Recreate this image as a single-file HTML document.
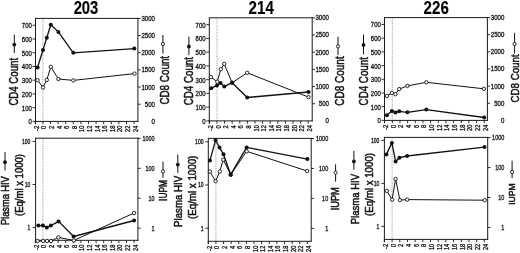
<!DOCTYPE html>
<html><head><meta charset="utf-8"><style>
html,body{margin:0;padding:0;background:#fff;}
body{width:520px;height:253px;overflow:hidden;}
svg{display:block;font-family:"Liberation Sans", sans-serif;filter:grayscale(1) blur(0.3px);}
</style></head><body>
<svg width="520" height="253" viewBox="0 0 520 253">
<rect width="520" height="253" fill="#fff"/>
<text x="86.00" y="13.90" font-size="18.40" text-anchor="middle" font-weight="bold" fill="#000" stroke="#000" stroke-width="0.15" textLength="24.75" lengthAdjust="spacingAndGlyphs">203</text>
<line x1="42.90" y1="19.40" x2="42.90" y2="121.40" stroke="#9a9a9a" stroke-width="1.0" stroke-dasharray="1.1,1.1"/>
<line x1="35.50" y1="18.40" x2="138.40" y2="18.40" stroke="#1a1a1a" stroke-width="1" />
<line x1="35.50" y1="17.90" x2="35.50" y2="124.20" stroke="#1a1a1a" stroke-width="1" />
<line x1="137.90" y1="17.90" x2="137.90" y2="121.90" stroke="#1a1a1a" stroke-width="1" />
<line x1="35.00" y1="121.40" x2="138.40" y2="121.40" stroke="#1a1a1a" stroke-width="1" />
<line x1="35.30" y1="121.40" x2="35.30" y2="124.20" stroke="#1a1a1a" stroke-width="0.9" />
<text transform="translate(38.80,125.70) rotate(-90)" font-size="6.50" text-anchor="end" fill="#111" stroke="#111" stroke-width="0.3" textLength="5.30" lengthAdjust="spacingAndGlyphs">-2</text>
<line x1="42.90" y1="121.40" x2="42.90" y2="124.20" stroke="#1a1a1a" stroke-width="0.9" />
<text transform="translate(46.40,125.70) rotate(-90)" font-size="6.50" text-anchor="end" fill="#111" stroke="#111" stroke-width="0.3" textLength="3.20" lengthAdjust="spacingAndGlyphs">0</text>
<line x1="50.50" y1="121.40" x2="50.50" y2="124.20" stroke="#1a1a1a" stroke-width="0.9" />
<text transform="translate(54.00,125.70) rotate(-90)" font-size="6.50" text-anchor="end" fill="#111" stroke="#111" stroke-width="0.3" textLength="3.20" lengthAdjust="spacingAndGlyphs">2</text>
<line x1="58.10" y1="121.40" x2="58.10" y2="124.20" stroke="#1a1a1a" stroke-width="0.9" />
<text transform="translate(61.60,125.70) rotate(-90)" font-size="6.50" text-anchor="end" fill="#111" stroke="#111" stroke-width="0.3" textLength="3.20" lengthAdjust="spacingAndGlyphs">4</text>
<line x1="65.70" y1="121.40" x2="65.70" y2="124.20" stroke="#1a1a1a" stroke-width="0.9" />
<text transform="translate(69.20,125.70) rotate(-90)" font-size="6.50" text-anchor="end" fill="#111" stroke="#111" stroke-width="0.3" textLength="3.20" lengthAdjust="spacingAndGlyphs">6</text>
<line x1="73.30" y1="121.40" x2="73.30" y2="124.20" stroke="#1a1a1a" stroke-width="0.9" />
<text transform="translate(76.80,125.70) rotate(-90)" font-size="6.50" text-anchor="end" fill="#111" stroke="#111" stroke-width="0.3" textLength="3.20" lengthAdjust="spacingAndGlyphs">8</text>
<line x1="80.90" y1="121.40" x2="80.90" y2="124.20" stroke="#1a1a1a" stroke-width="0.9" />
<text transform="translate(84.40,125.70) rotate(-90)" font-size="6.50" text-anchor="end" fill="#111" stroke="#111" stroke-width="0.3" textLength="6.30" lengthAdjust="spacingAndGlyphs">10</text>
<line x1="88.50" y1="121.40" x2="88.50" y2="124.20" stroke="#1a1a1a" stroke-width="0.9" />
<text transform="translate(92.00,125.70) rotate(-90)" font-size="6.50" text-anchor="end" fill="#111" stroke="#111" stroke-width="0.3" textLength="6.30" lengthAdjust="spacingAndGlyphs">12</text>
<line x1="96.10" y1="121.40" x2="96.10" y2="124.20" stroke="#1a1a1a" stroke-width="0.9" />
<text transform="translate(99.60,125.70) rotate(-90)" font-size="6.50" text-anchor="end" fill="#111" stroke="#111" stroke-width="0.3" textLength="6.30" lengthAdjust="spacingAndGlyphs">14</text>
<line x1="103.70" y1="121.40" x2="103.70" y2="124.20" stroke="#1a1a1a" stroke-width="0.9" />
<text transform="translate(107.20,125.70) rotate(-90)" font-size="6.50" text-anchor="end" fill="#111" stroke="#111" stroke-width="0.3" textLength="6.30" lengthAdjust="spacingAndGlyphs">16</text>
<line x1="111.30" y1="121.40" x2="111.30" y2="124.20" stroke="#1a1a1a" stroke-width="0.9" />
<text transform="translate(114.80,125.70) rotate(-90)" font-size="6.50" text-anchor="end" fill="#111" stroke="#111" stroke-width="0.3" textLength="6.30" lengthAdjust="spacingAndGlyphs">18</text>
<line x1="118.90" y1="121.40" x2="118.90" y2="124.20" stroke="#1a1a1a" stroke-width="0.9" />
<text transform="translate(122.40,125.70) rotate(-90)" font-size="6.50" text-anchor="end" fill="#111" stroke="#111" stroke-width="0.3" textLength="6.30" lengthAdjust="spacingAndGlyphs">20</text>
<line x1="126.50" y1="121.40" x2="126.50" y2="124.20" stroke="#1a1a1a" stroke-width="0.9" />
<text transform="translate(130.00,125.70) rotate(-90)" font-size="6.50" text-anchor="end" fill="#111" stroke="#111" stroke-width="0.3" textLength="6.30" lengthAdjust="spacingAndGlyphs">22</text>
<line x1="134.10" y1="121.40" x2="134.10" y2="124.20" stroke="#1a1a1a" stroke-width="0.9" />
<text transform="translate(137.60,125.70) rotate(-90)" font-size="6.50" text-anchor="end" fill="#111" stroke="#111" stroke-width="0.3" textLength="6.30" lengthAdjust="spacingAndGlyphs">24</text>
<line x1="32.50" y1="121.40" x2="35.50" y2="121.40" stroke="#1a1a1a" stroke-width="0.9" />
<text x="31.80" y="124.40" font-size="7.00" text-anchor="end" fill="#111" stroke="#111" stroke-width="0.3" textLength="3.33" lengthAdjust="spacingAndGlyphs">0</text>
<line x1="32.50" y1="107.67" x2="35.50" y2="107.67" stroke="#1a1a1a" stroke-width="0.9" />
<text x="31.80" y="110.67" font-size="7.00" text-anchor="end" fill="#111" stroke="#111" stroke-width="0.3" textLength="9.99" lengthAdjust="spacingAndGlyphs">100</text>
<line x1="32.50" y1="93.93" x2="35.50" y2="93.93" stroke="#1a1a1a" stroke-width="0.9" />
<text x="31.80" y="96.93" font-size="7.00" text-anchor="end" fill="#111" stroke="#111" stroke-width="0.3" textLength="9.99" lengthAdjust="spacingAndGlyphs">200</text>
<line x1="32.50" y1="80.20" x2="35.50" y2="80.20" stroke="#1a1a1a" stroke-width="0.9" />
<text x="31.80" y="83.20" font-size="7.00" text-anchor="end" fill="#111" stroke="#111" stroke-width="0.3" textLength="9.99" lengthAdjust="spacingAndGlyphs">300</text>
<line x1="32.50" y1="66.47" x2="35.50" y2="66.47" stroke="#1a1a1a" stroke-width="0.9" />
<text x="31.80" y="69.47" font-size="7.00" text-anchor="end" fill="#111" stroke="#111" stroke-width="0.3" textLength="9.99" lengthAdjust="spacingAndGlyphs">400</text>
<line x1="32.50" y1="52.73" x2="35.50" y2="52.73" stroke="#1a1a1a" stroke-width="0.9" />
<text x="31.80" y="55.73" font-size="7.00" text-anchor="end" fill="#111" stroke="#111" stroke-width="0.3" textLength="9.99" lengthAdjust="spacingAndGlyphs">500</text>
<line x1="32.50" y1="39.00" x2="35.50" y2="39.00" stroke="#1a1a1a" stroke-width="0.9" />
<text x="31.80" y="42.00" font-size="7.00" text-anchor="end" fill="#111" stroke="#111" stroke-width="0.3" textLength="9.99" lengthAdjust="spacingAndGlyphs">600</text>
<line x1="32.50" y1="25.27" x2="35.50" y2="25.27" stroke="#1a1a1a" stroke-width="0.9" />
<text x="31.80" y="28.27" font-size="7.00" text-anchor="end" fill="#111" stroke="#111" stroke-width="0.3" textLength="9.99" lengthAdjust="spacingAndGlyphs">700</text>
<text x="155.00" y="123.85" font-size="7.00" text-anchor="end" fill="#111" stroke="#111" stroke-width="0.3" textLength="3.38" lengthAdjust="spacingAndGlyphs">0</text>
<line x1="137.90" y1="104.23" x2="140.70" y2="104.23" stroke="#1a1a1a" stroke-width="0.9" />
<text x="155.00" y="106.68" font-size="7.00" text-anchor="end" fill="#111" stroke="#111" stroke-width="0.3" textLength="10.14" lengthAdjust="spacingAndGlyphs">500</text>
<line x1="137.90" y1="87.07" x2="140.70" y2="87.07" stroke="#1a1a1a" stroke-width="0.9" />
<text x="155.00" y="89.52" font-size="7.00" text-anchor="end" fill="#111" stroke="#111" stroke-width="0.3" textLength="13.52" lengthAdjust="spacingAndGlyphs">1000</text>
<line x1="137.90" y1="69.90" x2="140.70" y2="69.90" stroke="#1a1a1a" stroke-width="0.9" />
<text x="155.00" y="72.35" font-size="7.00" text-anchor="end" fill="#111" stroke="#111" stroke-width="0.3" textLength="13.52" lengthAdjust="spacingAndGlyphs">1500</text>
<line x1="137.90" y1="52.73" x2="140.70" y2="52.73" stroke="#1a1a1a" stroke-width="0.9" />
<text x="155.00" y="55.18" font-size="7.00" text-anchor="end" fill="#111" stroke="#111" stroke-width="0.3" textLength="13.52" lengthAdjust="spacingAndGlyphs">2000</text>
<line x1="137.90" y1="35.57" x2="140.70" y2="35.57" stroke="#1a1a1a" stroke-width="0.9" />
<text x="155.00" y="38.02" font-size="7.00" text-anchor="end" fill="#111" stroke="#111" stroke-width="0.3" textLength="13.52" lengthAdjust="spacingAndGlyphs">2500</text>
<line x1="137.90" y1="18.40" x2="140.70" y2="18.40" stroke="#1a1a1a" stroke-width="0.9" />
<text x="155.00" y="20.85" font-size="7.00" text-anchor="end" fill="#111" stroke="#111" stroke-width="0.3" textLength="13.52" lengthAdjust="spacingAndGlyphs">3000</text>
<text transform="translate(17.70,105.60) rotate(-90)" font-size="12.05" fill="#111" stroke="#111" stroke-width="0.5" textLength="47.70" lengthAdjust="spacingAndGlyphs">CD4 Count</text>
<text transform="translate(169.40,104.60) rotate(-90)" font-size="12.63" fill="#111" stroke="#111" stroke-width="0.5" textLength="48.70" lengthAdjust="spacingAndGlyphs">CD8 Count</text>
<line x1="14.30" y1="34.50" x2="14.30" y2="53.10" stroke="#111" stroke-width="1.0" />
<circle cx="14.30" cy="44.60" r="1.9" fill="#111"/>
<line x1="162.90" y1="35.00" x2="162.90" y2="53.60" stroke="#111" stroke-width="1.0" />
<circle cx="162.90" cy="44.00" r="1.6" fill="#fff" stroke="#111" stroke-width="0.9"/>
<polyline points="37.60,80.20 43.00,87.50 46.80,79.90 50.80,66.90 58.40,79.00 73.30,80.40 134.50,73.60" fill="none" stroke="#111" stroke-width="1.0" stroke-linejoin="round"/>
<polyline points="37.60,67.40 43.00,50.00 46.80,37.70 50.80,24.80 58.40,31.90 73.30,52.80 134.30,48.60" fill="none" stroke="#111" stroke-width="1.3" stroke-linejoin="round"/>
<circle cx="37.60" cy="80.20" r="1.7" fill="#fff" stroke="#111" stroke-width="0.9"/>
<circle cx="43.00" cy="87.50" r="1.7" fill="#fff" stroke="#111" stroke-width="0.9"/>
<circle cx="46.80" cy="79.90" r="1.7" fill="#fff" stroke="#111" stroke-width="0.9"/>
<circle cx="50.80" cy="66.90" r="1.7" fill="#fff" stroke="#111" stroke-width="0.9"/>
<circle cx="58.40" cy="79.00" r="1.7" fill="#fff" stroke="#111" stroke-width="0.9"/>
<circle cx="73.30" cy="80.40" r="1.7" fill="#fff" stroke="#111" stroke-width="0.9"/>
<circle cx="134.50" cy="73.60" r="1.7" fill="#fff" stroke="#111" stroke-width="0.9"/>
<circle cx="37.60" cy="67.40" r="2.0" fill="#111"/>
<circle cx="43.00" cy="50.00" r="2.0" fill="#111"/>
<circle cx="46.80" cy="37.70" r="2.0" fill="#111"/>
<circle cx="50.80" cy="24.80" r="2.0" fill="#111"/>
<circle cx="58.40" cy="31.90" r="2.0" fill="#111"/>
<circle cx="73.30" cy="52.80" r="2.0" fill="#111"/>
<circle cx="134.30" cy="48.60" r="2.0" fill="#111"/>
<line x1="42.90" y1="139.20" x2="42.90" y2="240.30" stroke="#9a9a9a" stroke-width="1.0" stroke-dasharray="1.1,1.1"/>
<line x1="35.60" y1="138.20" x2="138.40" y2="138.20" stroke="#1a1a1a" stroke-width="1" />
<line x1="35.60" y1="137.70" x2="35.60" y2="243.10" stroke="#1a1a1a" stroke-width="1" />
<line x1="137.90" y1="137.70" x2="137.90" y2="240.80" stroke="#1a1a1a" stroke-width="1" />
<line x1="35.10" y1="240.30" x2="138.40" y2="240.30" stroke="#1a1a1a" stroke-width="1" />
<line x1="35.30" y1="240.30" x2="35.30" y2="243.10" stroke="#1a1a1a" stroke-width="0.9" />
<text transform="translate(38.80,244.70) rotate(-90)" font-size="6.50" text-anchor="end" fill="#111" stroke="#111" stroke-width="0.3" textLength="5.30" lengthAdjust="spacingAndGlyphs">-2</text>
<line x1="42.90" y1="240.30" x2="42.90" y2="243.10" stroke="#1a1a1a" stroke-width="0.9" />
<text transform="translate(46.40,244.70) rotate(-90)" font-size="6.50" text-anchor="end" fill="#111" stroke="#111" stroke-width="0.3" textLength="3.20" lengthAdjust="spacingAndGlyphs">0</text>
<line x1="50.50" y1="240.30" x2="50.50" y2="243.10" stroke="#1a1a1a" stroke-width="0.9" />
<text transform="translate(54.00,244.70) rotate(-90)" font-size="6.50" text-anchor="end" fill="#111" stroke="#111" stroke-width="0.3" textLength="3.20" lengthAdjust="spacingAndGlyphs">2</text>
<line x1="58.10" y1="240.30" x2="58.10" y2="243.10" stroke="#1a1a1a" stroke-width="0.9" />
<text transform="translate(61.60,244.70) rotate(-90)" font-size="6.50" text-anchor="end" fill="#111" stroke="#111" stroke-width="0.3" textLength="3.20" lengthAdjust="spacingAndGlyphs">4</text>
<line x1="65.70" y1="240.30" x2="65.70" y2="243.10" stroke="#1a1a1a" stroke-width="0.9" />
<text transform="translate(69.20,244.70) rotate(-90)" font-size="6.50" text-anchor="end" fill="#111" stroke="#111" stroke-width="0.3" textLength="3.20" lengthAdjust="spacingAndGlyphs">6</text>
<line x1="73.30" y1="240.30" x2="73.30" y2="243.10" stroke="#1a1a1a" stroke-width="0.9" />
<text transform="translate(76.80,244.70) rotate(-90)" font-size="6.50" text-anchor="end" fill="#111" stroke="#111" stroke-width="0.3" textLength="3.20" lengthAdjust="spacingAndGlyphs">8</text>
<line x1="80.90" y1="240.30" x2="80.90" y2="243.10" stroke="#1a1a1a" stroke-width="0.9" />
<text transform="translate(84.40,244.70) rotate(-90)" font-size="6.50" text-anchor="end" fill="#111" stroke="#111" stroke-width="0.3" textLength="6.30" lengthAdjust="spacingAndGlyphs">10</text>
<line x1="88.50" y1="240.30" x2="88.50" y2="243.10" stroke="#1a1a1a" stroke-width="0.9" />
<text transform="translate(92.00,244.70) rotate(-90)" font-size="6.50" text-anchor="end" fill="#111" stroke="#111" stroke-width="0.3" textLength="6.30" lengthAdjust="spacingAndGlyphs">12</text>
<line x1="96.10" y1="240.30" x2="96.10" y2="243.10" stroke="#1a1a1a" stroke-width="0.9" />
<text transform="translate(99.60,244.70) rotate(-90)" font-size="6.50" text-anchor="end" fill="#111" stroke="#111" stroke-width="0.3" textLength="6.30" lengthAdjust="spacingAndGlyphs">14</text>
<line x1="103.70" y1="240.30" x2="103.70" y2="243.10" stroke="#1a1a1a" stroke-width="0.9" />
<text transform="translate(107.20,244.70) rotate(-90)" font-size="6.50" text-anchor="end" fill="#111" stroke="#111" stroke-width="0.3" textLength="6.30" lengthAdjust="spacingAndGlyphs">16</text>
<line x1="111.30" y1="240.30" x2="111.30" y2="243.10" stroke="#1a1a1a" stroke-width="0.9" />
<text transform="translate(114.80,244.70) rotate(-90)" font-size="6.50" text-anchor="end" fill="#111" stroke="#111" stroke-width="0.3" textLength="6.30" lengthAdjust="spacingAndGlyphs">18</text>
<line x1="118.90" y1="240.30" x2="118.90" y2="243.10" stroke="#1a1a1a" stroke-width="0.9" />
<text transform="translate(122.40,244.70) rotate(-90)" font-size="6.50" text-anchor="end" fill="#111" stroke="#111" stroke-width="0.3" textLength="6.30" lengthAdjust="spacingAndGlyphs">20</text>
<line x1="126.50" y1="240.30" x2="126.50" y2="243.10" stroke="#1a1a1a" stroke-width="0.9" />
<text transform="translate(130.00,244.70) rotate(-90)" font-size="6.50" text-anchor="end" fill="#111" stroke="#111" stroke-width="0.3" textLength="6.30" lengthAdjust="spacingAndGlyphs">22</text>
<line x1="134.10" y1="240.30" x2="134.10" y2="243.10" stroke="#1a1a1a" stroke-width="0.9" />
<text transform="translate(137.60,244.70) rotate(-90)" font-size="6.50" text-anchor="end" fill="#111" stroke="#111" stroke-width="0.3" textLength="6.30" lengthAdjust="spacingAndGlyphs">24</text>
<line x1="32.60" y1="141.50" x2="35.60" y2="141.50" stroke="#1a1a1a" stroke-width="0.9" />
<text x="30.30" y="143.85" font-size="6.70" text-anchor="end" fill="#111" stroke="#111" stroke-width="0.3" textLength="8.40" lengthAdjust="spacingAndGlyphs">100</text>
<line x1="32.60" y1="184.50" x2="35.60" y2="184.50" stroke="#1a1a1a" stroke-width="0.9" />
<text x="30.30" y="186.85" font-size="6.70" text-anchor="end" fill="#111" stroke="#111" stroke-width="0.3" textLength="5.60" lengthAdjust="spacingAndGlyphs">10</text>
<line x1="32.60" y1="227.50" x2="35.60" y2="227.50" stroke="#1a1a1a" stroke-width="0.9" />
<text x="30.30" y="229.85" font-size="6.70" text-anchor="end" fill="#111" stroke="#111" stroke-width="0.3" textLength="2.80" lengthAdjust="spacingAndGlyphs">1</text>
<line x1="137.90" y1="138.40" x2="140.70" y2="138.40" stroke="#1a1a1a" stroke-width="0.9" />
<text x="154.60" y="140.90" font-size="7.20" text-anchor="end" fill="#111" stroke="#111" stroke-width="0.3" textLength="12.20" lengthAdjust="spacingAndGlyphs">1000</text>
<line x1="137.90" y1="168.33" x2="140.70" y2="168.33" stroke="#1a1a1a" stroke-width="0.9" />
<text x="154.60" y="170.83" font-size="7.20" text-anchor="end" fill="#111" stroke="#111" stroke-width="0.3" textLength="9.15" lengthAdjust="spacingAndGlyphs">100</text>
<line x1="137.90" y1="198.26" x2="140.70" y2="198.26" stroke="#1a1a1a" stroke-width="0.9" />
<text x="154.60" y="200.76" font-size="7.20" text-anchor="end" fill="#111" stroke="#111" stroke-width="0.3" textLength="6.10" lengthAdjust="spacingAndGlyphs">10</text>
<line x1="137.90" y1="228.19" x2="140.70" y2="228.19" stroke="#1a1a1a" stroke-width="0.9" />
<text x="154.60" y="230.69" font-size="7.20" text-anchor="end" fill="#111" stroke="#111" stroke-width="0.3" textLength="3.05" lengthAdjust="spacingAndGlyphs">1</text>
<text transform="translate(9.30,225.10) rotate(-90)" font-size="11.62" fill="#111" stroke="#111" stroke-width="0.5" textLength="48.90" lengthAdjust="spacingAndGlyphs">Plasma HIV</text>
<text transform="translate(23.20,216.00) rotate(-90)" font-size="11.05" fill="#111" stroke="#111" stroke-width="0.5" textLength="62.00" lengthAdjust="spacingAndGlyphs">(Eq/ml x 1000)</text>
<text transform="translate(167.40,200.90) rotate(-90)" font-size="10.04" fill="#111" stroke="#111" stroke-width="0.5" textLength="20.90" lengthAdjust="spacingAndGlyphs">IUPM</text>
<line x1="5.00" y1="152.10" x2="5.00" y2="170.50" stroke="#111" stroke-width="1.0" />
<circle cx="5.00" cy="162.20" r="1.9" fill="#111"/>
<line x1="163.00" y1="161.50" x2="163.00" y2="177.80" stroke="#111" stroke-width="1.0" />
<circle cx="163.00" cy="171.40" r="1.6" fill="#fff" stroke="#111" stroke-width="0.9"/>
<polyline points="37.50,241.00 43.20,241.00 47.10,241.00 51.00,241.00 58.30,237.40 73.80,240.40 134.10,213.00" fill="none" stroke="#111" stroke-width="1.0" stroke-linejoin="round"/>
<polyline points="38.40,225.60 42.90,225.60 46.80,227.40 50.90,225.60 58.60,221.40 73.60,236.50 134.10,220.50" fill="none" stroke="#111" stroke-width="1.3" stroke-linejoin="round"/>
<circle cx="37.50" cy="241.00" r="1.7" fill="#fff" stroke="#111" stroke-width="0.9"/>
<circle cx="43.20" cy="241.00" r="1.7" fill="#fff" stroke="#111" stroke-width="0.9"/>
<circle cx="47.10" cy="241.00" r="1.7" fill="#fff" stroke="#111" stroke-width="0.9"/>
<circle cx="51.00" cy="241.00" r="1.7" fill="#fff" stroke="#111" stroke-width="0.9"/>
<circle cx="58.30" cy="237.40" r="1.7" fill="#fff" stroke="#111" stroke-width="0.9"/>
<circle cx="73.80" cy="240.40" r="1.7" fill="#fff" stroke="#111" stroke-width="0.9"/>
<circle cx="134.10" cy="213.00" r="1.7" fill="#fff" stroke="#111" stroke-width="0.9"/>
<circle cx="38.40" cy="225.60" r="2.0" fill="#111"/>
<circle cx="42.90" cy="225.60" r="2.0" fill="#111"/>
<circle cx="46.80" cy="227.40" r="2.0" fill="#111"/>
<circle cx="50.90" cy="225.60" r="2.0" fill="#111"/>
<circle cx="58.60" cy="221.40" r="2.0" fill="#111"/>
<circle cx="73.60" cy="236.50" r="2.0" fill="#111"/>
<circle cx="134.10" cy="220.50" r="2.0" fill="#111"/>
<text x="261.20" y="13.90" font-size="18.40" text-anchor="middle" font-weight="bold" fill="#000" stroke="#000" stroke-width="0.15" textLength="25.17" lengthAdjust="spacingAndGlyphs">214</text>
<line x1="217.00" y1="18.80" x2="217.00" y2="120.90" stroke="#9a9a9a" stroke-width="1.0" stroke-dasharray="1.1,1.1"/>
<line x1="209.30" y1="17.80" x2="312.70" y2="17.80" stroke="#1a1a1a" stroke-width="1" />
<line x1="209.30" y1="17.30" x2="209.30" y2="123.70" stroke="#1a1a1a" stroke-width="1" />
<line x1="312.20" y1="17.30" x2="312.20" y2="121.40" stroke="#1a1a1a" stroke-width="1" />
<line x1="208.80" y1="120.90" x2="312.70" y2="120.90" stroke="#1a1a1a" stroke-width="1" />
<line x1="209.40" y1="120.90" x2="209.40" y2="123.70" stroke="#1a1a1a" stroke-width="0.9" />
<text transform="translate(212.90,125.20) rotate(-90)" font-size="6.50" text-anchor="end" fill="#111" stroke="#111" stroke-width="0.3" textLength="5.30" lengthAdjust="spacingAndGlyphs">-2</text>
<line x1="217.00" y1="120.90" x2="217.00" y2="123.70" stroke="#1a1a1a" stroke-width="0.9" />
<text transform="translate(220.50,125.20) rotate(-90)" font-size="6.50" text-anchor="end" fill="#111" stroke="#111" stroke-width="0.3" textLength="3.20" lengthAdjust="spacingAndGlyphs">0</text>
<line x1="224.60" y1="120.90" x2="224.60" y2="123.70" stroke="#1a1a1a" stroke-width="0.9" />
<text transform="translate(228.10,125.20) rotate(-90)" font-size="6.50" text-anchor="end" fill="#111" stroke="#111" stroke-width="0.3" textLength="3.20" lengthAdjust="spacingAndGlyphs">2</text>
<line x1="232.20" y1="120.90" x2="232.20" y2="123.70" stroke="#1a1a1a" stroke-width="0.9" />
<text transform="translate(235.70,125.20) rotate(-90)" font-size="6.50" text-anchor="end" fill="#111" stroke="#111" stroke-width="0.3" textLength="3.20" lengthAdjust="spacingAndGlyphs">4</text>
<line x1="239.80" y1="120.90" x2="239.80" y2="123.70" stroke="#1a1a1a" stroke-width="0.9" />
<text transform="translate(243.30,125.20) rotate(-90)" font-size="6.50" text-anchor="end" fill="#111" stroke="#111" stroke-width="0.3" textLength="3.20" lengthAdjust="spacingAndGlyphs">6</text>
<line x1="247.40" y1="120.90" x2="247.40" y2="123.70" stroke="#1a1a1a" stroke-width="0.9" />
<text transform="translate(250.90,125.20) rotate(-90)" font-size="6.50" text-anchor="end" fill="#111" stroke="#111" stroke-width="0.3" textLength="3.20" lengthAdjust="spacingAndGlyphs">8</text>
<line x1="255.00" y1="120.90" x2="255.00" y2="123.70" stroke="#1a1a1a" stroke-width="0.9" />
<text transform="translate(258.50,125.20) rotate(-90)" font-size="6.50" text-anchor="end" fill="#111" stroke="#111" stroke-width="0.3" textLength="6.30" lengthAdjust="spacingAndGlyphs">10</text>
<line x1="262.60" y1="120.90" x2="262.60" y2="123.70" stroke="#1a1a1a" stroke-width="0.9" />
<text transform="translate(266.10,125.20) rotate(-90)" font-size="6.50" text-anchor="end" fill="#111" stroke="#111" stroke-width="0.3" textLength="6.30" lengthAdjust="spacingAndGlyphs">12</text>
<line x1="270.20" y1="120.90" x2="270.20" y2="123.70" stroke="#1a1a1a" stroke-width="0.9" />
<text transform="translate(273.70,125.20) rotate(-90)" font-size="6.50" text-anchor="end" fill="#111" stroke="#111" stroke-width="0.3" textLength="6.30" lengthAdjust="spacingAndGlyphs">14</text>
<line x1="277.80" y1="120.90" x2="277.80" y2="123.70" stroke="#1a1a1a" stroke-width="0.9" />
<text transform="translate(281.30,125.20) rotate(-90)" font-size="6.50" text-anchor="end" fill="#111" stroke="#111" stroke-width="0.3" textLength="6.30" lengthAdjust="spacingAndGlyphs">16</text>
<line x1="285.40" y1="120.90" x2="285.40" y2="123.70" stroke="#1a1a1a" stroke-width="0.9" />
<text transform="translate(288.90,125.20) rotate(-90)" font-size="6.50" text-anchor="end" fill="#111" stroke="#111" stroke-width="0.3" textLength="6.30" lengthAdjust="spacingAndGlyphs">18</text>
<line x1="293.00" y1="120.90" x2="293.00" y2="123.70" stroke="#1a1a1a" stroke-width="0.9" />
<text transform="translate(296.50,125.20) rotate(-90)" font-size="6.50" text-anchor="end" fill="#111" stroke="#111" stroke-width="0.3" textLength="6.30" lengthAdjust="spacingAndGlyphs">20</text>
<line x1="300.60" y1="120.90" x2="300.60" y2="123.70" stroke="#1a1a1a" stroke-width="0.9" />
<text transform="translate(304.10,125.20) rotate(-90)" font-size="6.50" text-anchor="end" fill="#111" stroke="#111" stroke-width="0.3" textLength="6.30" lengthAdjust="spacingAndGlyphs">22</text>
<line x1="308.20" y1="120.90" x2="308.20" y2="123.70" stroke="#1a1a1a" stroke-width="0.9" />
<text transform="translate(311.70,125.20) rotate(-90)" font-size="6.50" text-anchor="end" fill="#111" stroke="#111" stroke-width="0.3" textLength="6.30" lengthAdjust="spacingAndGlyphs">24</text>
<line x1="206.30" y1="120.90" x2="209.30" y2="120.90" stroke="#1a1a1a" stroke-width="0.9" />
<text x="205.60" y="123.90" font-size="7.00" text-anchor="end" fill="#111" stroke="#111" stroke-width="0.3" textLength="3.33" lengthAdjust="spacingAndGlyphs">0</text>
<line x1="206.30" y1="107.15" x2="209.30" y2="107.15" stroke="#1a1a1a" stroke-width="0.9" />
<text x="205.60" y="110.15" font-size="7.00" text-anchor="end" fill="#111" stroke="#111" stroke-width="0.3" textLength="9.99" lengthAdjust="spacingAndGlyphs">100</text>
<line x1="206.30" y1="93.41" x2="209.30" y2="93.41" stroke="#1a1a1a" stroke-width="0.9" />
<text x="205.60" y="96.41" font-size="7.00" text-anchor="end" fill="#111" stroke="#111" stroke-width="0.3" textLength="9.99" lengthAdjust="spacingAndGlyphs">200</text>
<line x1="206.30" y1="79.66" x2="209.30" y2="79.66" stroke="#1a1a1a" stroke-width="0.9" />
<text x="205.60" y="82.66" font-size="7.00" text-anchor="end" fill="#111" stroke="#111" stroke-width="0.3" textLength="9.99" lengthAdjust="spacingAndGlyphs">300</text>
<line x1="206.30" y1="65.91" x2="209.30" y2="65.91" stroke="#1a1a1a" stroke-width="0.9" />
<text x="205.60" y="68.91" font-size="7.00" text-anchor="end" fill="#111" stroke="#111" stroke-width="0.3" textLength="9.99" lengthAdjust="spacingAndGlyphs">400</text>
<line x1="206.30" y1="52.17" x2="209.30" y2="52.17" stroke="#1a1a1a" stroke-width="0.9" />
<text x="205.60" y="55.17" font-size="7.00" text-anchor="end" fill="#111" stroke="#111" stroke-width="0.3" textLength="9.99" lengthAdjust="spacingAndGlyphs">500</text>
<line x1="206.30" y1="38.42" x2="209.30" y2="38.42" stroke="#1a1a1a" stroke-width="0.9" />
<text x="205.60" y="41.42" font-size="7.00" text-anchor="end" fill="#111" stroke="#111" stroke-width="0.3" textLength="9.99" lengthAdjust="spacingAndGlyphs">600</text>
<line x1="206.30" y1="24.67" x2="209.30" y2="24.67" stroke="#1a1a1a" stroke-width="0.9" />
<text x="205.60" y="27.67" font-size="7.00" text-anchor="end" fill="#111" stroke="#111" stroke-width="0.3" textLength="9.99" lengthAdjust="spacingAndGlyphs">700</text>
<text x="329.00" y="123.35" font-size="7.00" text-anchor="end" fill="#111" stroke="#111" stroke-width="0.3" textLength="3.38" lengthAdjust="spacingAndGlyphs">0</text>
<line x1="312.20" y1="103.72" x2="315.00" y2="103.72" stroke="#1a1a1a" stroke-width="0.9" />
<text x="329.00" y="106.17" font-size="7.00" text-anchor="end" fill="#111" stroke="#111" stroke-width="0.3" textLength="10.14" lengthAdjust="spacingAndGlyphs">500</text>
<line x1="312.20" y1="86.53" x2="315.00" y2="86.53" stroke="#1a1a1a" stroke-width="0.9" />
<text x="329.00" y="88.98" font-size="7.00" text-anchor="end" fill="#111" stroke="#111" stroke-width="0.3" textLength="13.52" lengthAdjust="spacingAndGlyphs">1000</text>
<line x1="312.20" y1="69.35" x2="315.00" y2="69.35" stroke="#1a1a1a" stroke-width="0.9" />
<text x="329.00" y="71.80" font-size="7.00" text-anchor="end" fill="#111" stroke="#111" stroke-width="0.3" textLength="13.52" lengthAdjust="spacingAndGlyphs">1500</text>
<line x1="312.20" y1="52.17" x2="315.00" y2="52.17" stroke="#1a1a1a" stroke-width="0.9" />
<text x="329.00" y="54.62" font-size="7.00" text-anchor="end" fill="#111" stroke="#111" stroke-width="0.3" textLength="13.52" lengthAdjust="spacingAndGlyphs">2000</text>
<line x1="312.20" y1="34.98" x2="315.00" y2="34.98" stroke="#1a1a1a" stroke-width="0.9" />
<text x="329.00" y="37.43" font-size="7.00" text-anchor="end" fill="#111" stroke="#111" stroke-width="0.3" textLength="13.52" lengthAdjust="spacingAndGlyphs">2500</text>
<line x1="312.20" y1="17.80" x2="315.00" y2="17.80" stroke="#1a1a1a" stroke-width="0.9" />
<text x="329.00" y="20.25" font-size="7.00" text-anchor="end" fill="#111" stroke="#111" stroke-width="0.3" textLength="13.52" lengthAdjust="spacingAndGlyphs">3000</text>
<text transform="translate(192.90,105.20) rotate(-90)" font-size="11.91" fill="#111" stroke="#111" stroke-width="0.5" textLength="48.20" lengthAdjust="spacingAndGlyphs">CD4 Count</text>
<text transform="translate(343.80,105.80) rotate(-90)" font-size="12.34" fill="#111" stroke="#111" stroke-width="0.5" textLength="49.50" lengthAdjust="spacingAndGlyphs">CD8 Count</text>
<line x1="188.90" y1="36.70" x2="188.90" y2="55.10" stroke="#111" stroke-width="1.0" />
<circle cx="188.90" cy="46.50" r="1.9" fill="#111"/>
<line x1="338.00" y1="36.70" x2="338.00" y2="55.10" stroke="#111" stroke-width="1.0" />
<circle cx="338.00" cy="46.40" r="1.6" fill="#fff" stroke="#111" stroke-width="0.9"/>
<polyline points="210.90,77.10 217.30,81.70 220.80,69.20 224.20,63.90 232.10,82.70 247.20,72.80 308.50,97.10" fill="none" stroke="#111" stroke-width="1.0" stroke-linejoin="round"/>
<polyline points="211.20,88.20 216.90,85.60 220.50,82.90 224.30,86.60 232.10,82.70 247.20,97.50 308.50,92.00" fill="none" stroke="#111" stroke-width="1.3" stroke-linejoin="round"/>
<circle cx="210.90" cy="77.10" r="1.7" fill="#fff" stroke="#111" stroke-width="0.9"/>
<circle cx="217.30" cy="81.70" r="1.7" fill="#fff" stroke="#111" stroke-width="0.9"/>
<circle cx="220.80" cy="69.20" r="1.7" fill="#fff" stroke="#111" stroke-width="0.9"/>
<circle cx="224.20" cy="63.90" r="1.7" fill="#fff" stroke="#111" stroke-width="0.9"/>
<circle cx="232.10" cy="82.70" r="1.7" fill="#fff" stroke="#111" stroke-width="0.9"/>
<circle cx="247.20" cy="72.80" r="1.7" fill="#fff" stroke="#111" stroke-width="0.9"/>
<circle cx="308.50" cy="97.10" r="1.7" fill="#fff" stroke="#111" stroke-width="0.9"/>
<circle cx="211.20" cy="88.20" r="2.0" fill="#111"/>
<circle cx="216.90" cy="85.60" r="2.0" fill="#111"/>
<circle cx="220.50" cy="82.90" r="2.0" fill="#111"/>
<circle cx="224.30" cy="86.60" r="2.0" fill="#111"/>
<circle cx="232.10" cy="82.70" r="2.0" fill="#111"/>
<circle cx="247.20" cy="97.50" r="2.0" fill="#111"/>
<circle cx="308.50" cy="92.00" r="2.0" fill="#111"/>
<line x1="215.90" y1="139.40" x2="215.90" y2="241.30" stroke="#9a9a9a" stroke-width="1.0" stroke-dasharray="1.1,1.1"/>
<line x1="208.30" y1="138.40" x2="311.70" y2="138.40" stroke="#1a1a1a" stroke-width="1" />
<line x1="208.30" y1="137.90" x2="208.30" y2="244.10" stroke="#1a1a1a" stroke-width="1" />
<line x1="311.20" y1="137.90" x2="311.20" y2="241.80" stroke="#1a1a1a" stroke-width="1" />
<line x1="207.80" y1="241.30" x2="311.70" y2="241.30" stroke="#1a1a1a" stroke-width="1" />
<line x1="208.28" y1="241.30" x2="208.28" y2="244.10" stroke="#1a1a1a" stroke-width="0.9" />
<text transform="translate(211.78,245.70) rotate(-90)" font-size="6.50" text-anchor="end" fill="#111" stroke="#111" stroke-width="0.3" textLength="5.30" lengthAdjust="spacingAndGlyphs">-2</text>
<line x1="215.90" y1="241.30" x2="215.90" y2="244.10" stroke="#1a1a1a" stroke-width="0.9" />
<text transform="translate(219.40,245.70) rotate(-90)" font-size="6.50" text-anchor="end" fill="#111" stroke="#111" stroke-width="0.3" textLength="3.20" lengthAdjust="spacingAndGlyphs">0</text>
<line x1="223.52" y1="241.30" x2="223.52" y2="244.10" stroke="#1a1a1a" stroke-width="0.9" />
<text transform="translate(227.02,245.70) rotate(-90)" font-size="6.50" text-anchor="end" fill="#111" stroke="#111" stroke-width="0.3" textLength="3.20" lengthAdjust="spacingAndGlyphs">2</text>
<line x1="231.14" y1="241.30" x2="231.14" y2="244.10" stroke="#1a1a1a" stroke-width="0.9" />
<text transform="translate(234.64,245.70) rotate(-90)" font-size="6.50" text-anchor="end" fill="#111" stroke="#111" stroke-width="0.3" textLength="3.20" lengthAdjust="spacingAndGlyphs">4</text>
<line x1="238.76" y1="241.30" x2="238.76" y2="244.10" stroke="#1a1a1a" stroke-width="0.9" />
<text transform="translate(242.26,245.70) rotate(-90)" font-size="6.50" text-anchor="end" fill="#111" stroke="#111" stroke-width="0.3" textLength="3.20" lengthAdjust="spacingAndGlyphs">6</text>
<line x1="246.38" y1="241.30" x2="246.38" y2="244.10" stroke="#1a1a1a" stroke-width="0.9" />
<text transform="translate(249.88,245.70) rotate(-90)" font-size="6.50" text-anchor="end" fill="#111" stroke="#111" stroke-width="0.3" textLength="3.20" lengthAdjust="spacingAndGlyphs">8</text>
<line x1="254.00" y1="241.30" x2="254.00" y2="244.10" stroke="#1a1a1a" stroke-width="0.9" />
<text transform="translate(257.50,245.70) rotate(-90)" font-size="6.50" text-anchor="end" fill="#111" stroke="#111" stroke-width="0.3" textLength="6.30" lengthAdjust="spacingAndGlyphs">10</text>
<line x1="261.62" y1="241.30" x2="261.62" y2="244.10" stroke="#1a1a1a" stroke-width="0.9" />
<text transform="translate(265.12,245.70) rotate(-90)" font-size="6.50" text-anchor="end" fill="#111" stroke="#111" stroke-width="0.3" textLength="6.30" lengthAdjust="spacingAndGlyphs">12</text>
<line x1="269.24" y1="241.30" x2="269.24" y2="244.10" stroke="#1a1a1a" stroke-width="0.9" />
<text transform="translate(272.74,245.70) rotate(-90)" font-size="6.50" text-anchor="end" fill="#111" stroke="#111" stroke-width="0.3" textLength="6.30" lengthAdjust="spacingAndGlyphs">14</text>
<line x1="276.86" y1="241.30" x2="276.86" y2="244.10" stroke="#1a1a1a" stroke-width="0.9" />
<text transform="translate(280.36,245.70) rotate(-90)" font-size="6.50" text-anchor="end" fill="#111" stroke="#111" stroke-width="0.3" textLength="6.30" lengthAdjust="spacingAndGlyphs">16</text>
<line x1="284.48" y1="241.30" x2="284.48" y2="244.10" stroke="#1a1a1a" stroke-width="0.9" />
<text transform="translate(287.98,245.70) rotate(-90)" font-size="6.50" text-anchor="end" fill="#111" stroke="#111" stroke-width="0.3" textLength="6.30" lengthAdjust="spacingAndGlyphs">18</text>
<line x1="292.10" y1="241.30" x2="292.10" y2="244.10" stroke="#1a1a1a" stroke-width="0.9" />
<text transform="translate(295.60,245.70) rotate(-90)" font-size="6.50" text-anchor="end" fill="#111" stroke="#111" stroke-width="0.3" textLength="6.30" lengthAdjust="spacingAndGlyphs">20</text>
<line x1="299.72" y1="241.30" x2="299.72" y2="244.10" stroke="#1a1a1a" stroke-width="0.9" />
<text transform="translate(303.22,245.70) rotate(-90)" font-size="6.50" text-anchor="end" fill="#111" stroke="#111" stroke-width="0.3" textLength="6.30" lengthAdjust="spacingAndGlyphs">22</text>
<line x1="307.34" y1="241.30" x2="307.34" y2="244.10" stroke="#1a1a1a" stroke-width="0.9" />
<text transform="translate(310.84,245.70) rotate(-90)" font-size="6.50" text-anchor="end" fill="#111" stroke="#111" stroke-width="0.3" textLength="6.30" lengthAdjust="spacingAndGlyphs">24</text>
<line x1="205.30" y1="141.80" x2="208.30" y2="141.80" stroke="#1a1a1a" stroke-width="0.9" />
<text x="203.50" y="144.15" font-size="6.70" text-anchor="end" fill="#111" stroke="#111" stroke-width="0.3" textLength="8.40" lengthAdjust="spacingAndGlyphs">100</text>
<line x1="205.30" y1="185.00" x2="208.30" y2="185.00" stroke="#1a1a1a" stroke-width="0.9" />
<text x="203.50" y="187.35" font-size="6.70" text-anchor="end" fill="#111" stroke="#111" stroke-width="0.3" textLength="5.60" lengthAdjust="spacingAndGlyphs">10</text>
<line x1="205.30" y1="228.20" x2="208.30" y2="228.20" stroke="#1a1a1a" stroke-width="0.9" />
<text x="203.50" y="230.55" font-size="6.70" text-anchor="end" fill="#111" stroke="#111" stroke-width="0.3" textLength="2.80" lengthAdjust="spacingAndGlyphs">1</text>
<line x1="311.20" y1="138.50" x2="314.00" y2="138.50" stroke="#1a1a1a" stroke-width="0.9" />
<text x="328.20" y="141.00" font-size="7.20" text-anchor="end" fill="#111" stroke="#111" stroke-width="0.3" textLength="12.20" lengthAdjust="spacingAndGlyphs">1000</text>
<line x1="311.20" y1="168.45" x2="314.00" y2="168.45" stroke="#1a1a1a" stroke-width="0.9" />
<text x="328.20" y="170.95" font-size="7.20" text-anchor="end" fill="#111" stroke="#111" stroke-width="0.3" textLength="9.15" lengthAdjust="spacingAndGlyphs">100</text>
<line x1="311.20" y1="198.40" x2="314.00" y2="198.40" stroke="#1a1a1a" stroke-width="0.9" />
<text x="328.20" y="200.90" font-size="7.20" text-anchor="end" fill="#111" stroke="#111" stroke-width="0.3" textLength="6.10" lengthAdjust="spacingAndGlyphs">10</text>
<line x1="311.20" y1="228.35" x2="314.00" y2="228.35" stroke="#1a1a1a" stroke-width="0.9" />
<text x="328.20" y="230.85" font-size="7.20" text-anchor="end" fill="#111" stroke="#111" stroke-width="0.3" textLength="3.05" lengthAdjust="spacingAndGlyphs">1</text>
<text transform="translate(182.20,226.90) rotate(-90)" font-size="11.48" fill="#111" stroke="#111" stroke-width="0.5" textLength="51.00" lengthAdjust="spacingAndGlyphs">Plasma HIV</text>
<text transform="translate(195.50,219.00) rotate(-90)" font-size="11.05" fill="#111" stroke="#111" stroke-width="0.5" textLength="63.30" lengthAdjust="spacingAndGlyphs">(Eq/ml x 1000)</text>
<text transform="translate(339.20,210.30) rotate(-90)" font-size="10.04" fill="#111" stroke="#111" stroke-width="0.5" textLength="23.10" lengthAdjust="spacingAndGlyphs">IUPM</text>
<line x1="177.80" y1="154.50" x2="177.80" y2="172.90" stroke="#111" stroke-width="1.0" />
<circle cx="177.80" cy="164.60" r="1.9" fill="#111"/>
<line x1="335.60" y1="164.30" x2="335.60" y2="181.70" stroke="#111" stroke-width="1.0" />
<circle cx="335.60" cy="172.60" r="1.6" fill="#fff" stroke="#111" stroke-width="0.9"/>
<polyline points="209.90,171.60 215.60,181.20 219.80,171.50 223.20,159.70 230.70,174.70 246.60,151.30 307.20,171.00" fill="none" stroke="#111" stroke-width="1.0" stroke-linejoin="round"/>
<polyline points="209.90,160.60 215.60,140.20 219.50,147.60 223.50,154.30 230.70,174.70 246.60,147.40 307.40,159.10" fill="none" stroke="#111" stroke-width="1.3" stroke-linejoin="round"/>
<circle cx="209.90" cy="171.60" r="1.7" fill="#fff" stroke="#111" stroke-width="0.9"/>
<circle cx="215.60" cy="181.20" r="1.7" fill="#fff" stroke="#111" stroke-width="0.9"/>
<circle cx="219.80" cy="171.50" r="1.7" fill="#fff" stroke="#111" stroke-width="0.9"/>
<circle cx="223.20" cy="159.70" r="1.7" fill="#fff" stroke="#111" stroke-width="0.9"/>
<circle cx="230.70" cy="174.70" r="1.7" fill="#fff" stroke="#111" stroke-width="0.9"/>
<circle cx="246.60" cy="151.30" r="1.7" fill="#fff" stroke="#111" stroke-width="0.9"/>
<circle cx="307.20" cy="171.00" r="1.7" fill="#fff" stroke="#111" stroke-width="0.9"/>
<circle cx="209.90" cy="160.60" r="2.0" fill="#111"/>
<circle cx="215.60" cy="140.20" r="2.0" fill="#111"/>
<circle cx="219.50" cy="147.60" r="2.0" fill="#111"/>
<circle cx="223.50" cy="154.30" r="2.0" fill="#111"/>
<circle cx="230.70" cy="174.70" r="2.0" fill="#111"/>
<circle cx="246.60" cy="147.40" r="2.0" fill="#111"/>
<circle cx="307.40" cy="159.10" r="2.0" fill="#111"/>
<text x="436.20" y="13.90" font-size="18.40" text-anchor="middle" font-weight="bold" fill="#000" stroke="#000" stroke-width="0.15" textLength="25.17" lengthAdjust="spacingAndGlyphs">226</text>
<line x1="392.30" y1="18.60" x2="392.30" y2="120.40" stroke="#9a9a9a" stroke-width="1.0" stroke-dasharray="1.1,1.1"/>
<line x1="384.50" y1="17.60" x2="487.90" y2="17.60" stroke="#1a1a1a" stroke-width="1" />
<line x1="384.50" y1="17.10" x2="384.50" y2="123.20" stroke="#1a1a1a" stroke-width="1" />
<line x1="487.40" y1="17.10" x2="487.40" y2="120.90" stroke="#1a1a1a" stroke-width="1" />
<line x1="384.00" y1="120.40" x2="487.90" y2="120.40" stroke="#1a1a1a" stroke-width="1" />
<line x1="384.64" y1="120.40" x2="384.64" y2="123.20" stroke="#1a1a1a" stroke-width="0.9" />
<text transform="translate(388.14,124.70) rotate(-90)" font-size="6.50" text-anchor="end" fill="#111" stroke="#111" stroke-width="0.3" textLength="5.30" lengthAdjust="spacingAndGlyphs">-2</text>
<line x1="392.30" y1="120.40" x2="392.30" y2="123.20" stroke="#1a1a1a" stroke-width="0.9" />
<text transform="translate(395.80,124.70) rotate(-90)" font-size="6.50" text-anchor="end" fill="#111" stroke="#111" stroke-width="0.3" textLength="3.20" lengthAdjust="spacingAndGlyphs">0</text>
<line x1="399.96" y1="120.40" x2="399.96" y2="123.20" stroke="#1a1a1a" stroke-width="0.9" />
<text transform="translate(403.46,124.70) rotate(-90)" font-size="6.50" text-anchor="end" fill="#111" stroke="#111" stroke-width="0.3" textLength="3.20" lengthAdjust="spacingAndGlyphs">2</text>
<line x1="407.62" y1="120.40" x2="407.62" y2="123.20" stroke="#1a1a1a" stroke-width="0.9" />
<text transform="translate(411.12,124.70) rotate(-90)" font-size="6.50" text-anchor="end" fill="#111" stroke="#111" stroke-width="0.3" textLength="3.20" lengthAdjust="spacingAndGlyphs">4</text>
<line x1="415.28" y1="120.40" x2="415.28" y2="123.20" stroke="#1a1a1a" stroke-width="0.9" />
<text transform="translate(418.78,124.70) rotate(-90)" font-size="6.50" text-anchor="end" fill="#111" stroke="#111" stroke-width="0.3" textLength="3.20" lengthAdjust="spacingAndGlyphs">6</text>
<line x1="422.94" y1="120.40" x2="422.94" y2="123.20" stroke="#1a1a1a" stroke-width="0.9" />
<text transform="translate(426.44,124.70) rotate(-90)" font-size="6.50" text-anchor="end" fill="#111" stroke="#111" stroke-width="0.3" textLength="3.20" lengthAdjust="spacingAndGlyphs">8</text>
<line x1="430.60" y1="120.40" x2="430.60" y2="123.20" stroke="#1a1a1a" stroke-width="0.9" />
<text transform="translate(434.10,124.70) rotate(-90)" font-size="6.50" text-anchor="end" fill="#111" stroke="#111" stroke-width="0.3" textLength="6.30" lengthAdjust="spacingAndGlyphs">10</text>
<line x1="438.26" y1="120.40" x2="438.26" y2="123.20" stroke="#1a1a1a" stroke-width="0.9" />
<text transform="translate(441.76,124.70) rotate(-90)" font-size="6.50" text-anchor="end" fill="#111" stroke="#111" stroke-width="0.3" textLength="6.30" lengthAdjust="spacingAndGlyphs">12</text>
<line x1="445.92" y1="120.40" x2="445.92" y2="123.20" stroke="#1a1a1a" stroke-width="0.9" />
<text transform="translate(449.42,124.70) rotate(-90)" font-size="6.50" text-anchor="end" fill="#111" stroke="#111" stroke-width="0.3" textLength="6.30" lengthAdjust="spacingAndGlyphs">14</text>
<line x1="453.58" y1="120.40" x2="453.58" y2="123.20" stroke="#1a1a1a" stroke-width="0.9" />
<text transform="translate(457.08,124.70) rotate(-90)" font-size="6.50" text-anchor="end" fill="#111" stroke="#111" stroke-width="0.3" textLength="6.30" lengthAdjust="spacingAndGlyphs">16</text>
<line x1="461.24" y1="120.40" x2="461.24" y2="123.20" stroke="#1a1a1a" stroke-width="0.9" />
<text transform="translate(464.74,124.70) rotate(-90)" font-size="6.50" text-anchor="end" fill="#111" stroke="#111" stroke-width="0.3" textLength="6.30" lengthAdjust="spacingAndGlyphs">18</text>
<line x1="468.90" y1="120.40" x2="468.90" y2="123.20" stroke="#1a1a1a" stroke-width="0.9" />
<text transform="translate(472.40,124.70) rotate(-90)" font-size="6.50" text-anchor="end" fill="#111" stroke="#111" stroke-width="0.3" textLength="6.30" lengthAdjust="spacingAndGlyphs">20</text>
<line x1="476.56" y1="120.40" x2="476.56" y2="123.20" stroke="#1a1a1a" stroke-width="0.9" />
<text transform="translate(480.06,124.70) rotate(-90)" font-size="6.50" text-anchor="end" fill="#111" stroke="#111" stroke-width="0.3" textLength="6.30" lengthAdjust="spacingAndGlyphs">22</text>
<line x1="484.22" y1="120.40" x2="484.22" y2="123.20" stroke="#1a1a1a" stroke-width="0.9" />
<text transform="translate(487.72,124.70) rotate(-90)" font-size="6.50" text-anchor="end" fill="#111" stroke="#111" stroke-width="0.3" textLength="6.30" lengthAdjust="spacingAndGlyphs">24</text>
<line x1="381.50" y1="120.40" x2="384.50" y2="120.40" stroke="#1a1a1a" stroke-width="0.9" />
<text x="380.80" y="123.40" font-size="7.00" text-anchor="end" fill="#111" stroke="#111" stroke-width="0.3" textLength="3.33" lengthAdjust="spacingAndGlyphs">0</text>
<line x1="381.50" y1="106.69" x2="384.50" y2="106.69" stroke="#1a1a1a" stroke-width="0.9" />
<text x="380.80" y="109.69" font-size="7.00" text-anchor="end" fill="#111" stroke="#111" stroke-width="0.3" textLength="9.99" lengthAdjust="spacingAndGlyphs">100</text>
<line x1="381.50" y1="92.99" x2="384.50" y2="92.99" stroke="#1a1a1a" stroke-width="0.9" />
<text x="380.80" y="95.99" font-size="7.00" text-anchor="end" fill="#111" stroke="#111" stroke-width="0.3" textLength="9.99" lengthAdjust="spacingAndGlyphs">200</text>
<line x1="381.50" y1="79.28" x2="384.50" y2="79.28" stroke="#1a1a1a" stroke-width="0.9" />
<text x="380.80" y="82.28" font-size="7.00" text-anchor="end" fill="#111" stroke="#111" stroke-width="0.3" textLength="9.99" lengthAdjust="spacingAndGlyphs">300</text>
<line x1="381.50" y1="65.57" x2="384.50" y2="65.57" stroke="#1a1a1a" stroke-width="0.9" />
<text x="380.80" y="68.57" font-size="7.00" text-anchor="end" fill="#111" stroke="#111" stroke-width="0.3" textLength="9.99" lengthAdjust="spacingAndGlyphs">400</text>
<line x1="381.50" y1="51.87" x2="384.50" y2="51.87" stroke="#1a1a1a" stroke-width="0.9" />
<text x="380.80" y="54.87" font-size="7.00" text-anchor="end" fill="#111" stroke="#111" stroke-width="0.3" textLength="9.99" lengthAdjust="spacingAndGlyphs">500</text>
<line x1="381.50" y1="38.16" x2="384.50" y2="38.16" stroke="#1a1a1a" stroke-width="0.9" />
<text x="380.80" y="41.16" font-size="7.00" text-anchor="end" fill="#111" stroke="#111" stroke-width="0.3" textLength="9.99" lengthAdjust="spacingAndGlyphs">600</text>
<line x1="381.50" y1="24.45" x2="384.50" y2="24.45" stroke="#1a1a1a" stroke-width="0.9" />
<text x="380.80" y="27.45" font-size="7.00" text-anchor="end" fill="#111" stroke="#111" stroke-width="0.3" textLength="9.99" lengthAdjust="spacingAndGlyphs">700</text>
<text x="504.30" y="122.85" font-size="7.00" text-anchor="end" fill="#111" stroke="#111" stroke-width="0.3" textLength="3.38" lengthAdjust="spacingAndGlyphs">0</text>
<line x1="487.40" y1="103.27" x2="490.20" y2="103.27" stroke="#1a1a1a" stroke-width="0.9" />
<text x="504.30" y="105.72" font-size="7.00" text-anchor="end" fill="#111" stroke="#111" stroke-width="0.3" textLength="10.14" lengthAdjust="spacingAndGlyphs">500</text>
<line x1="487.40" y1="86.13" x2="490.20" y2="86.13" stroke="#1a1a1a" stroke-width="0.9" />
<text x="504.30" y="88.58" font-size="7.00" text-anchor="end" fill="#111" stroke="#111" stroke-width="0.3" textLength="13.52" lengthAdjust="spacingAndGlyphs">1000</text>
<line x1="487.40" y1="69.00" x2="490.20" y2="69.00" stroke="#1a1a1a" stroke-width="0.9" />
<text x="504.30" y="71.45" font-size="7.00" text-anchor="end" fill="#111" stroke="#111" stroke-width="0.3" textLength="13.52" lengthAdjust="spacingAndGlyphs">1500</text>
<line x1="487.40" y1="51.87" x2="490.20" y2="51.87" stroke="#1a1a1a" stroke-width="0.9" />
<text x="504.30" y="54.32" font-size="7.00" text-anchor="end" fill="#111" stroke="#111" stroke-width="0.3" textLength="13.52" lengthAdjust="spacingAndGlyphs">2000</text>
<line x1="487.40" y1="34.73" x2="490.20" y2="34.73" stroke="#1a1a1a" stroke-width="0.9" />
<text x="504.30" y="37.18" font-size="7.00" text-anchor="end" fill="#111" stroke="#111" stroke-width="0.3" textLength="13.52" lengthAdjust="spacingAndGlyphs">2500</text>
<line x1="487.40" y1="17.60" x2="490.20" y2="17.60" stroke="#1a1a1a" stroke-width="0.9" />
<text x="504.30" y="20.05" font-size="7.00" text-anchor="end" fill="#111" stroke="#111" stroke-width="0.3" textLength="13.52" lengthAdjust="spacingAndGlyphs">3000</text>
<text transform="translate(368.20,105.40) rotate(-90)" font-size="12.91" fill="#111" stroke="#111" stroke-width="0.5" textLength="48.30" lengthAdjust="spacingAndGlyphs">CD4 Count</text>
<text transform="translate(518.50,102.50) rotate(-90)" font-size="11.62" fill="#111" stroke="#111" stroke-width="0.5" textLength="48.10" lengthAdjust="spacingAndGlyphs">CD8 Count</text>
<line x1="363.50" y1="34.60" x2="363.50" y2="54.40" stroke="#111" stroke-width="1.0" />
<circle cx="363.50" cy="45.00" r="1.9" fill="#111"/>
<line x1="514.60" y1="32.90" x2="514.60" y2="53.60" stroke="#111" stroke-width="1.0" />
<circle cx="514.60" cy="44.00" r="1.6" fill="#fff" stroke="#111" stroke-width="0.9"/>
<polyline points="386.90,95.90 391.90,93.00 395.40,94.20 399.20,89.10 407.40,85.90 426.30,82.30 483.90,88.80" fill="none" stroke="#111" stroke-width="1.0" stroke-linejoin="round"/>
<polyline points="386.90,115.30 391.90,111.10 395.40,112.40 399.20,111.30 407.40,112.30 426.30,109.60 484.20,117.50" fill="none" stroke="#111" stroke-width="1.3" stroke-linejoin="round"/>
<circle cx="386.90" cy="95.90" r="1.7" fill="#fff" stroke="#111" stroke-width="0.9"/>
<circle cx="391.90" cy="93.00" r="1.7" fill="#fff" stroke="#111" stroke-width="0.9"/>
<circle cx="395.40" cy="94.20" r="1.7" fill="#fff" stroke="#111" stroke-width="0.9"/>
<circle cx="399.20" cy="89.10" r="1.7" fill="#fff" stroke="#111" stroke-width="0.9"/>
<circle cx="407.40" cy="85.90" r="1.7" fill="#fff" stroke="#111" stroke-width="0.9"/>
<circle cx="426.30" cy="82.30" r="1.7" fill="#fff" stroke="#111" stroke-width="0.9"/>
<circle cx="483.90" cy="88.80" r="1.7" fill="#fff" stroke="#111" stroke-width="0.9"/>
<circle cx="386.90" cy="115.30" r="2.0" fill="#111"/>
<circle cx="391.90" cy="111.10" r="2.0" fill="#111"/>
<circle cx="395.40" cy="112.40" r="2.0" fill="#111"/>
<circle cx="399.20" cy="111.30" r="2.0" fill="#111"/>
<circle cx="407.40" cy="112.30" r="2.0" fill="#111"/>
<circle cx="426.30" cy="109.60" r="2.0" fill="#111"/>
<circle cx="484.20" cy="117.50" r="2.0" fill="#111"/>
<line x1="392.10" y1="138.40" x2="392.10" y2="239.40" stroke="#9a9a9a" stroke-width="1.0" stroke-dasharray="1.1,1.1"/>
<line x1="384.40" y1="137.40" x2="488.20" y2="137.40" stroke="#1a1a1a" stroke-width="1" />
<line x1="384.40" y1="136.90" x2="384.40" y2="242.20" stroke="#1a1a1a" stroke-width="1" />
<line x1="487.70" y1="136.90" x2="487.70" y2="239.90" stroke="#1a1a1a" stroke-width="1" />
<line x1="383.90" y1="239.40" x2="488.20" y2="239.40" stroke="#1a1a1a" stroke-width="1" />
<line x1="384.42" y1="239.40" x2="384.42" y2="242.20" stroke="#1a1a1a" stroke-width="0.9" />
<text transform="translate(387.92,243.80) rotate(-90)" font-size="6.50" text-anchor="end" fill="#111" stroke="#111" stroke-width="0.3" textLength="5.30" lengthAdjust="spacingAndGlyphs">-2</text>
<line x1="392.10" y1="239.40" x2="392.10" y2="242.20" stroke="#1a1a1a" stroke-width="0.9" />
<text transform="translate(395.60,243.80) rotate(-90)" font-size="6.50" text-anchor="end" fill="#111" stroke="#111" stroke-width="0.3" textLength="3.20" lengthAdjust="spacingAndGlyphs">0</text>
<line x1="399.78" y1="239.40" x2="399.78" y2="242.20" stroke="#1a1a1a" stroke-width="0.9" />
<text transform="translate(403.28,243.80) rotate(-90)" font-size="6.50" text-anchor="end" fill="#111" stroke="#111" stroke-width="0.3" textLength="3.20" lengthAdjust="spacingAndGlyphs">2</text>
<line x1="407.47" y1="239.40" x2="407.47" y2="242.20" stroke="#1a1a1a" stroke-width="0.9" />
<text transform="translate(410.97,243.80) rotate(-90)" font-size="6.50" text-anchor="end" fill="#111" stroke="#111" stroke-width="0.3" textLength="3.20" lengthAdjust="spacingAndGlyphs">4</text>
<line x1="415.15" y1="239.40" x2="415.15" y2="242.20" stroke="#1a1a1a" stroke-width="0.9" />
<text transform="translate(418.65,243.80) rotate(-90)" font-size="6.50" text-anchor="end" fill="#111" stroke="#111" stroke-width="0.3" textLength="3.20" lengthAdjust="spacingAndGlyphs">6</text>
<line x1="422.84" y1="239.40" x2="422.84" y2="242.20" stroke="#1a1a1a" stroke-width="0.9" />
<text transform="translate(426.34,243.80) rotate(-90)" font-size="6.50" text-anchor="end" fill="#111" stroke="#111" stroke-width="0.3" textLength="3.20" lengthAdjust="spacingAndGlyphs">8</text>
<line x1="430.52" y1="239.40" x2="430.52" y2="242.20" stroke="#1a1a1a" stroke-width="0.9" />
<text transform="translate(434.02,243.80) rotate(-90)" font-size="6.50" text-anchor="end" fill="#111" stroke="#111" stroke-width="0.3" textLength="6.30" lengthAdjust="spacingAndGlyphs">10</text>
<line x1="438.20" y1="239.40" x2="438.20" y2="242.20" stroke="#1a1a1a" stroke-width="0.9" />
<text transform="translate(441.70,243.80) rotate(-90)" font-size="6.50" text-anchor="end" fill="#111" stroke="#111" stroke-width="0.3" textLength="6.30" lengthAdjust="spacingAndGlyphs">12</text>
<line x1="445.89" y1="239.40" x2="445.89" y2="242.20" stroke="#1a1a1a" stroke-width="0.9" />
<text transform="translate(449.39,243.80) rotate(-90)" font-size="6.50" text-anchor="end" fill="#111" stroke="#111" stroke-width="0.3" textLength="6.30" lengthAdjust="spacingAndGlyphs">14</text>
<line x1="453.57" y1="239.40" x2="453.57" y2="242.20" stroke="#1a1a1a" stroke-width="0.9" />
<text transform="translate(457.07,243.80) rotate(-90)" font-size="6.50" text-anchor="end" fill="#111" stroke="#111" stroke-width="0.3" textLength="6.30" lengthAdjust="spacingAndGlyphs">16</text>
<line x1="461.26" y1="239.40" x2="461.26" y2="242.20" stroke="#1a1a1a" stroke-width="0.9" />
<text transform="translate(464.76,243.80) rotate(-90)" font-size="6.50" text-anchor="end" fill="#111" stroke="#111" stroke-width="0.3" textLength="6.30" lengthAdjust="spacingAndGlyphs">18</text>
<line x1="468.94" y1="239.40" x2="468.94" y2="242.20" stroke="#1a1a1a" stroke-width="0.9" />
<text transform="translate(472.44,243.80) rotate(-90)" font-size="6.50" text-anchor="end" fill="#111" stroke="#111" stroke-width="0.3" textLength="6.30" lengthAdjust="spacingAndGlyphs">20</text>
<line x1="476.62" y1="239.40" x2="476.62" y2="242.20" stroke="#1a1a1a" stroke-width="0.9" />
<text transform="translate(480.12,243.80) rotate(-90)" font-size="6.50" text-anchor="end" fill="#111" stroke="#111" stroke-width="0.3" textLength="6.30" lengthAdjust="spacingAndGlyphs">22</text>
<line x1="484.31" y1="239.40" x2="484.31" y2="242.20" stroke="#1a1a1a" stroke-width="0.9" />
<text transform="translate(487.81,243.80) rotate(-90)" font-size="6.50" text-anchor="end" fill="#111" stroke="#111" stroke-width="0.3" textLength="6.30" lengthAdjust="spacingAndGlyphs">24</text>
<line x1="381.40" y1="140.40" x2="384.40" y2="140.40" stroke="#1a1a1a" stroke-width="0.9" />
<text x="379.30" y="142.75" font-size="6.70" text-anchor="end" fill="#111" stroke="#111" stroke-width="0.3" textLength="8.40" lengthAdjust="spacingAndGlyphs">100</text>
<line x1="381.40" y1="183.40" x2="384.40" y2="183.40" stroke="#1a1a1a" stroke-width="0.9" />
<text x="379.30" y="185.75" font-size="6.70" text-anchor="end" fill="#111" stroke="#111" stroke-width="0.3" textLength="5.60" lengthAdjust="spacingAndGlyphs">10</text>
<line x1="381.40" y1="226.40" x2="384.40" y2="226.40" stroke="#1a1a1a" stroke-width="0.9" />
<text x="379.30" y="228.75" font-size="6.70" text-anchor="end" fill="#111" stroke="#111" stroke-width="0.3" textLength="2.80" lengthAdjust="spacingAndGlyphs">1</text>
<line x1="487.70" y1="137.60" x2="490.50" y2="137.60" stroke="#1a1a1a" stroke-width="0.9" />
<text x="504.30" y="140.10" font-size="7.20" text-anchor="end" fill="#111" stroke="#111" stroke-width="0.3" textLength="12.20" lengthAdjust="spacingAndGlyphs">1000</text>
<line x1="487.70" y1="167.55" x2="490.50" y2="167.55" stroke="#1a1a1a" stroke-width="0.9" />
<text x="504.30" y="170.05" font-size="7.20" text-anchor="end" fill="#111" stroke="#111" stroke-width="0.3" textLength="9.15" lengthAdjust="spacingAndGlyphs">100</text>
<line x1="487.70" y1="197.50" x2="490.50" y2="197.50" stroke="#1a1a1a" stroke-width="0.9" />
<text x="504.30" y="200.00" font-size="7.20" text-anchor="end" fill="#111" stroke="#111" stroke-width="0.3" textLength="6.10" lengthAdjust="spacingAndGlyphs">10</text>
<line x1="487.70" y1="227.45" x2="490.50" y2="227.45" stroke="#1a1a1a" stroke-width="0.9" />
<text x="504.30" y="229.95" font-size="7.20" text-anchor="end" fill="#111" stroke="#111" stroke-width="0.3" textLength="3.05" lengthAdjust="spacingAndGlyphs">1</text>
<text transform="translate(358.80,224.30) rotate(-90)" font-size="11.76" fill="#111" stroke="#111" stroke-width="0.5" textLength="50.40" lengthAdjust="spacingAndGlyphs">Plasma HIV</text>
<text transform="translate(372.70,216.00) rotate(-90)" font-size="11.33" fill="#111" stroke="#111" stroke-width="0.5" textLength="63.00" lengthAdjust="spacingAndGlyphs">(Eq/ml x 1000)</text>
<text transform="translate(515.20,204.80) rotate(-90)" font-size="9.18" fill="#111" stroke="#111" stroke-width="0.5" textLength="21.50" lengthAdjust="spacingAndGlyphs">IUPM</text>
<line x1="353.90" y1="150.90" x2="353.90" y2="169.70" stroke="#111" stroke-width="1.0" />
<circle cx="353.90" cy="161.40" r="1.9" fill="#111"/>
<line x1="512.10" y1="160.70" x2="512.10" y2="178.10" stroke="#111" stroke-width="1.0" />
<circle cx="512.10" cy="171.90" r="1.6" fill="#fff" stroke="#111" stroke-width="0.9"/>
<polyline points="386.80,190.90 392.10,199.60 395.60,179.00 399.90,200.10 407.10,199.60 484.80,200.20" fill="none" stroke="#111" stroke-width="1.0" stroke-linejoin="round"/>
<polyline points="386.40,154.40 391.90,142.90 395.60,161.50 399.40,157.70 407.10,156.00 484.50,147.10" fill="none" stroke="#111" stroke-width="1.3" stroke-linejoin="round"/>
<circle cx="386.80" cy="190.90" r="1.7" fill="#fff" stroke="#111" stroke-width="0.9"/>
<circle cx="392.10" cy="199.60" r="1.7" fill="#fff" stroke="#111" stroke-width="0.9"/>
<circle cx="395.60" cy="179.00" r="1.7" fill="#fff" stroke="#111" stroke-width="0.9"/>
<circle cx="399.90" cy="200.10" r="1.7" fill="#fff" stroke="#111" stroke-width="0.9"/>
<circle cx="407.10" cy="199.60" r="1.7" fill="#fff" stroke="#111" stroke-width="0.9"/>
<circle cx="484.80" cy="200.20" r="1.7" fill="#fff" stroke="#111" stroke-width="0.9"/>
<circle cx="386.40" cy="154.40" r="2.0" fill="#111"/>
<circle cx="391.90" cy="142.90" r="2.0" fill="#111"/>
<circle cx="395.60" cy="161.50" r="2.0" fill="#111"/>
<circle cx="399.40" cy="157.70" r="2.0" fill="#111"/>
<circle cx="407.10" cy="156.00" r="2.0" fill="#111"/>
<circle cx="484.50" cy="147.10" r="2.0" fill="#111"/>
</svg>
</body></html>
